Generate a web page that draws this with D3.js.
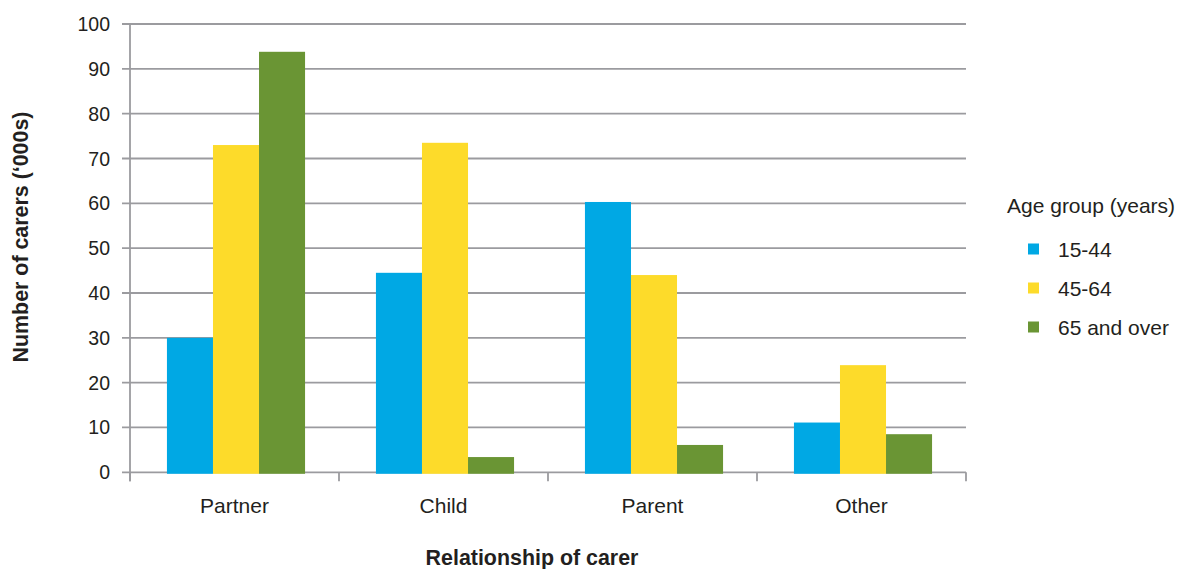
<!DOCTYPE html>
<html>
<head>
<meta charset="utf-8">
<script src="https://cdn.jsdelivr.net/npm/d3@7"></script>
<style>
  html, body { margin: 0; padding: 0; background: #fff; }
  svg { display: block; font-family: "Liberation Sans", Arial, Helvetica, sans-serif; }
</style>
</head>
<body>
<svg id="chart" width="1187" height="569"></svg>
<script>
// Carers by relationship and age group ('000s)
const categories = ["Partner", "Child", "Parent", "Other"];
const seriesNames = ["15-44", "45-64", "65 and over"];
const seriesColors = ["#00a8e4", "#fddb2a", "#6a9534"];
const values15to44 = [30.0, 44.5, 60.3, 11.1];
const values45to64 = [73.0, 73.5, 44.0, 23.9];
const values65plus = [93.8, 3.4, 6.1, 8.5];
const yTicks = [0, 10, 20, 30, 40, 50, 60, 70, 80, 90, 100];

const seriesValues = [values15to44, values45to64, values65plus];
const rows = categories.map((c, i) => ({
  category: c,
  bars: seriesNames.map((s, j) => ({ series: s, value: seriesValues[j][i], color: seriesColors[j] }))
}));

const svg = d3.select("#chart");
const textColor = "#231f20";
const gridColor = "#9b9b9f";

const plot = { left: 130, right: 966, top: 24, bottom: 472.3 };

const y = d3.scaleLinear().domain([0, 100]).range([plot.bottom, plot.top]);
const x0 = d3.scaleBand().domain(categories).range([plot.left, plot.right]).padding(0);
const x1 = d3.scaleBand().domain(seriesNames).range([1.5, x0.bandwidth() + 1.5])
  .paddingInner(0).paddingOuter(0.77);

// horizontal gridlines with short ticks left of the axis
svg.append("g")
  .selectAll("line")
  .data(yTicks)
  .join("line")
  .attr("x1", plot.left - 8)
  .attr("x2", plot.right)
  .attr("y1", d => y(d))
  .attr("y2", d => y(d))
  .attr("stroke", gridColor)
  .attr("stroke-width", 1.8);

// bars
const groups = svg.append("g")
  .selectAll("g")
  .data(rows)
  .join("g")
  .attr("transform", d => `translate(${x0(d.category)},0)`);

groups.selectAll("rect")
  .data(d => d.bars)
  .join("rect")
  .attr("x", d => x1(d.series))
  .attr("width", x1.bandwidth())
  .attr("y", d => y(d.value))
  .attr("height", d => y(0) - y(d.value) + 1.5)
  .attr("fill", d => d.color);

// vertical axis line
svg.append("line")
  .attr("x1", plot.left).attr("x2", plot.left)
  .attr("y1", plot.top).attr("y2", plot.bottom + 9)
  .attr("stroke", gridColor).attr("stroke-width", 1.8);

// category separators below the baseline
const sepX = categories.map(c => x0(c) + x0.bandwidth()).concat([plot.left]);
svg.append("g")
  .selectAll("line")
  .data(sepX)
  .join("line")
  .attr("x1", d => d).attr("x2", d => d)
  .attr("y1", plot.bottom).attr("y2", plot.bottom + 9)
  .attr("stroke", gridColor).attr("stroke-width", 1.8);

// y tick labels
svg.append("g")
  .selectAll("text")
  .data(yTicks)
  .join("text")
  .attr("x", 110)
  .attr("y", d => y(d))
  .attr("dy", "0.36em")
  .attr("text-anchor", "end")
  .attr("font-size", 19.5)
  .attr("fill", textColor)
  .text(d => d);

// category labels
svg.append("g")
  .selectAll("text")
  .data(categories)
  .join("text")
  .attr("x", d => x0(d) + x0.bandwidth() / 2)
  .attr("y", 505)
  .attr("dy", "0.36em")
  .attr("text-anchor", "middle")
  .attr("font-size", 21)
  .attr("fill", textColor)
  .text(d => d);

// axis titles
svg.append("text")
  .attr("x", 532)
  .attr("y", 557)
  .attr("dy", "0.36em")
  .attr("text-anchor", "middle")
  .attr("font-size", 21.4)
  .attr("font-weight", "bold")
  .attr("fill", textColor)
  .text("Relationship of carer");

svg.append("text")
  .attr("transform", "translate(20,237) rotate(-90)")
  .attr("dy", "0.36em")
  .attr("text-anchor", "middle")
  .attr("font-size", 21.4)
  .attr("font-weight", "bold")
  .attr("fill", textColor)
  .text("Number of carers (\u2018000s)");

// legend
const legend = svg.append("g");
legend.append("text")
  .attr("x", 1007)
  .attr("y", 205)
  .attr("dy", "0.36em")
  .attr("font-size", 21)
  .attr("fill", textColor)
  .text("Age group (years)");

const items = legend.selectAll("g.item")
  .data(seriesNames)
  .join("g")
  .attr("class", "item")
  .attr("transform", (d, i) => `translate(0,${249 + i * 39})`);

items.append("rect")
  .attr("x", 1028).attr("y", -5.5)
  .attr("width", 11).attr("height", 11)
  .attr("fill", (d, i) => seriesColors[i]);

items.append("text")
  .attr("x", 1058)
  .attr("y", 0)
  .attr("dy", "0.36em")
  .attr("font-size", 21)
  .attr("fill", textColor)
  .text(d => d);
</script>
</body>
</html>
